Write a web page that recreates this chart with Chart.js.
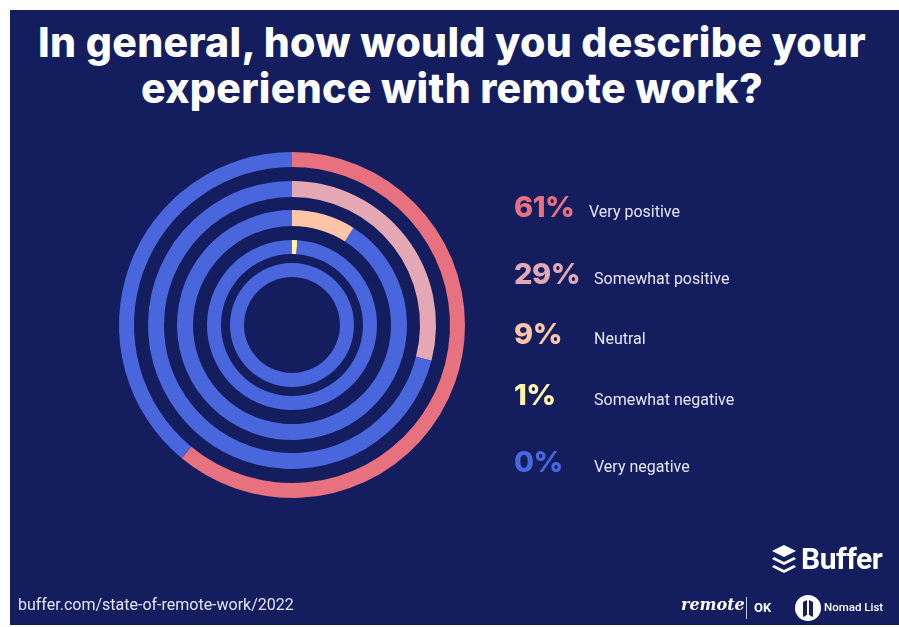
<!DOCTYPE html>
<html>
<head>
<meta charset="utf-8">
<script src="https://cdn.jsdelivr.net/npm/chart.js@4"></script>
<style>
  html, body { margin: 0; padding: 0; background: #fff; }
  body { width: 899px; height: 627px; position: relative; overflow: hidden; font-family: Roboto, 'Noto Sans', sans-serif; }
  .panel { position: absolute; left: 10px; top: 10px; width: 889px; height: 615px; background: #141d5e; }
  .title {
    position: absolute; left: 0; top: 19px; width: 904px; text-align: center;
    color: #fff; font-family: Inter, 'Open Sans', sans-serif; font-weight: 800;
    font-size: 41px; line-height: 46px; letter-spacing: 0.3px;
  }
  #chartWrap { position: absolute; left: 0; top: 0; width: 899px; height: 627px; }
  .legend-row { position: absolute; left: 0; height: 30px; }
  .legend-row .pct {
    position: absolute; left: 514px; font-family: Inter, sans-serif; font-weight: 800;
    font-size: 29px; line-height: 30px; letter-spacing: -0.5px;
  }
  .legend-row .lbl {
    position: absolute; font-size: 16px; line-height: 20px; color: #e6e7f5; white-space: nowrap;
  }
  .footer-url { position: absolute; left: 18px; top: 595px; font-size: 16px; color: #e3e4f3; }
  .buffer { position: absolute; left: 771px; top: 544px; height: 32px; }
  .buffer span {
    position: absolute; left: 30px; top: -3px; color: #fff; font-family: Roboto, sans-serif;
    font-weight: 700; font-size: 30px; letter-spacing: -0.5px;
  }
  .remote { position: absolute; left: 681px; top: 595px; color: #fff; font-family: 'DejaVu Serif', serif; font-style: italic; font-weight: 700; font-size: 16px; }
  .sep { position: absolute; left: 746px; top: 597px; width: 1px; height: 22px; background: #c9cbe6; }
  .ok { position: absolute; left: 754px; top: 600px; color: #fff; font-weight: 700; font-size: 13px; }
  .nomad { position: absolute; left: 794px; top: 594px; }
  .nomad span { position: absolute; left: 30px; top: 6px; color: #fff; font-size: 11.5px; white-space: nowrap; font-weight: 500; }
</style>
</head>
<body>
<div class="panel"></div>
<div class="title">In general, how would you describe your<br>experience with remote work?</div>
<div id="chartWrap"><canvas id="rings" width="899" height="627"></canvas></div>
<div id="legend"></div>
<div class="footer-url">buffer.com/state-of-remote-work/2022</div>
<div class="buffer">
  <svg width="26" height="32" viewBox="0 0 26 32">
    <path d="M13 1 L25 7 L13 13 L1 7 Z" fill="#fff"/>
    <path d="M3 13 L13 18 L23 13 L25 15 L13 21 L1 15 Z" fill="#fff"/>
    <path d="M3 21 L13 26 L23 21 L25 23 L13 29 L1 23 Z" fill="#fff"/>
  </svg>
  <span>Buffer</span>
</div>
<div class="remote">remote</div>
<div class="sep"></div>
<div class="ok">OK</div>
<div class="nomad">
  <svg width="28" height="28" viewBox="0 0 28 28">
    <circle cx="14" cy="14" r="13" fill="#fff"/>
    <path d="M9 8 L13 6 L13 21 L9 23 Z M15 6 L19 8 L19 23 L15 21 Z" fill="#141d5e"/>
  </svg>
  <span>Nomad List</span>
</div>
<script>
  // survey answers, outermost ring first
  const categories = ['Very positive', 'Somewhat positive', 'Neutral', 'Somewhat negative', 'Very negative'];
  const shares = [61, 29, 9, 1, 0];
  const shareLabels = ['61%', '29%', '9%', '1%', '0%'];
  const colors = ['#e8717f', '#e3a8b4', '#ffc5a8', '#fff4a3', '#4a66dd'];

  const BLUE = '#4a66dd';
  // ring thickness and the gap drawn after each ring (px, used as weights)
  const ringWeight = [15, 16, 16, 14, 14];
  const gapWeight = [14, 13, 14, 9];

  // legend row placement
  const rowTop = [192, 259, 319, 380, 447];
  const labelLeft = [589, 594, 594, 594, 594];

  const datasets = [];
  shares.forEach((v, i) => {
    datasets.push({
      label: categories[i],
      data: [v, 100 - v],
      backgroundColor: [colors[i], BLUE],
      borderWidth: 0,
      weight: ringWeight[i],
    });
    if (i < gapWeight.length) {
      // empty spacer ring between answers
      datasets.push({
        label: '',
        data: [100],
        backgroundColor: ['rgba(0,0,0,0)'],
        borderWidth: 0,
        weight: gapWeight[i],
      });
    }
  });

  new Chart(document.getElementById('rings').getContext('2d'), {
    type: 'doughnut',
    data: { labels: ['share', 'rest'], datasets },
    options: {
      responsive: false,
      animation: false,
      cutout: 48,
      layout: { padding: { left: 119, top: 152, right: 434, bottom: 129 } },
      plugins: { legend: { display: false }, tooltip: { enabled: false } },
      events: [],
    },
  });

  const legend = document.getElementById('legend');
  categories.forEach((c, i) => {
    const row = document.createElement('div');
    row.className = 'legend-row';
    row.style.top = rowTop[i] + 'px';
    const pct = document.createElement('div');
    pct.className = 'pct';
    pct.style.color = colors[i];
    pct.textContent = shareLabels[i];
    const lbl = document.createElement('div');
    lbl.className = 'lbl';
    lbl.style.left = labelLeft[i] + 'px';
    lbl.style.top = '10px';
    lbl.textContent = c;
    row.appendChild(pct);
    row.appendChild(lbl);
    legend.appendChild(row);
  });
</script>
</body>
</html>
